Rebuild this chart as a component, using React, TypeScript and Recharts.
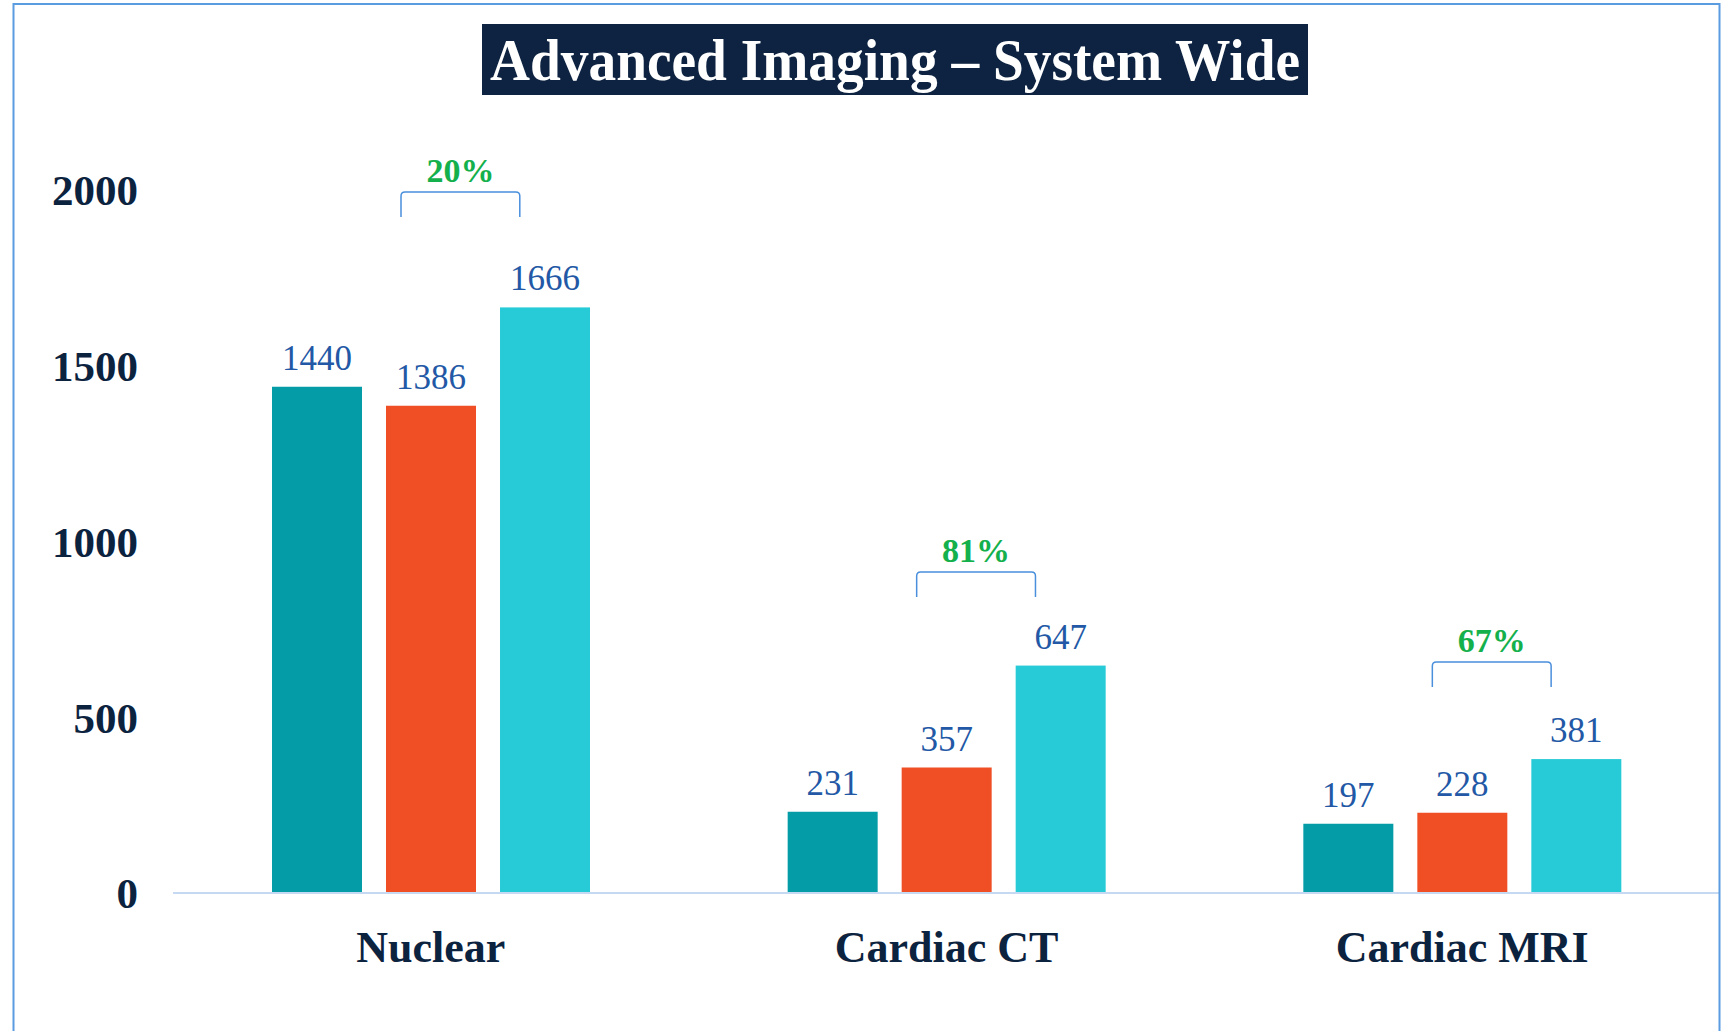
import React from 'react';
import { BarChart, Bar, XAxis, YAxis, LabelList } from 'recharts';

const categories = ['Nuclear', 'Cardiac CT', 'Cardiac MRI'];
const period1 = [1440, 231, 197];
const period2 = [1386, 357, 228];
const period3 = [1666, 647, 381];
const growthLabels = ['20%', '81%', '67%'];
// height of each growth bracket, in axis units
const bracketLevels = [1994, 913, 657];
const yTicks = [0, 500, 1000, 1500, 2000];

const data = categories.map((name, i) => ({
  name,
  p1: period1[i],
  p2: period2[i],
  p3: period3[i],
  growth: growthLabels[i],
  level: bracketLevels[i],
}));

const FONT = '"Liberation Serif", "DejaVu Serif", serif';
const NAVY = '#0c2340';

// last bar of each group also draws the bracket and the growth label above it
function BracketBar(props: any) {
  const { x, y, width, height, fill, payload } = props;
  const base = y + height;
  const pxPerUnit = height / payload.p3;
  const top = base - payload.level * pxPerUnit;
  const left = x - width * 1.1;
  const right = x + width * 0.22;
  const drop = 25;
  const r = 4;
  const mid = (left + right) / 2;
  return (
    <g>
      <rect x={x} y={y} width={width} height={height} fill={fill} />
      <path
        d={`M${left},${top + drop} L${left},${top + r} Q${left},${top} ${left + r},${top} L${right - r},${top} Q${right},${top} ${right},${top + r} L${right},${top + drop}`}
        fill="none"
        stroke="#4a8fdc"
        strokeWidth={1.5}
      />
      <text x={mid} y={top - 10} textAnchor="middle" fontFamily={FONT} fontWeight="bold" fontSize={34} fill="#14b04c">
        {payload.growth}
      </text>
    </g>
  );
}

export default function App() {
  return (
    <div style={{ position: 'absolute', left: 0, top: 0, width: 1728, height: 1031, background: '#fff', overflow: 'hidden' }}>
      <BarChart
        width={1728}
        height={1031}
        data={data}
        margin={{ top: 190, right: 8, bottom: 108, left: 0 }}
        barCategoryGap={99}
        barGap={24}
      >
        <XAxis
          dataKey="name"
          height={30}
          axisLine={{ stroke: '#c5daf2', strokeWidth: 2 }}
          tickLine={false}
          tickSize={0}
          tickMargin={38}
          tick={{ fill: NAVY, fontFamily: FONT, fontWeight: 'bold', fontSize: 44 }}
        />
        <YAxis
          domain={[0, 2000]}
          ticks={yTicks}
          width={173}
          axisLine={false}
          tickLine={false}
          tickSize={0}
          tickMargin={35}
          tick={{ fill: NAVY, fontFamily: FONT, fontWeight: 'bold', fontSize: 43 }}
        />
        <Bar dataKey="p1" fill="#049ca7" barSize={90} isAnimationActive={false}>
          <LabelList dataKey="p1" position="top" offset={17} fill="#2258a5" fontFamily={FONT} fontSize={35} />
        </Bar>
        <Bar dataKey="p2" fill="#f04e24" barSize={90} isAnimationActive={false}>
          <LabelList dataKey="p2" position="top" offset={17} fill="#2258a5" fontFamily={FONT} fontSize={35} />
        </Bar>
        <Bar dataKey="p3" fill="#27cbd8" barSize={90} shape={BracketBar} isAnimationActive={false}>
          <LabelList dataKey="p3" position="top" offset={17} fill="#2258a5" fontFamily={FONT} fontSize={35} />
        </Bar>
      </BarChart>
      <svg width={1728} height={1031} style={{ position: 'absolute', left: 0, top: 0, pointerEvents: 'none' }}>
        <rect x={13.5} y={4} width={1706} height={1100} fill="none" stroke="#5b9be0" strokeWidth={2} />
        <rect x={482} y={24} width={826} height={71} fill="#0d2341" />
        <text
          x={895}
          y={80}
          textAnchor="middle"
          fontFamily={FONT}
          fontWeight="bold"
          fontSize={60}
          fill="#fff"
          textLength={810}
          lengthAdjust="spacingAndGlyphs"
        >
          Advanced Imaging – System Wide
        </text>
      </svg>
    </div>
  );
}
